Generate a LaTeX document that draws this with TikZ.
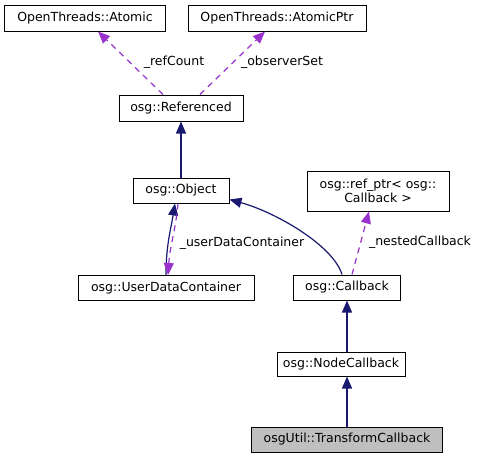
\documentclass[tikz,border=0pt]{standalone}
\usepackage{fontspec}
\setmainfont{DejaVu Sans}
\usetikzlibrary{arrows.meta,calc}
\definecolor{edgeblue}{HTML}{191970}
\definecolor{edgepurple}{HTML}{9A32CD}
\definecolor{boxgrey}{HTML}{BFBFBF}
\begin{document}
\begin{tikzpicture}[x=1pt,y=-1pt,
  every node/.style={font=\fontsize{12.5}{14.5}\selectfont, inner sep=0pt},
  cls/.style={draw=black, line width=1pt, fill=white, align=center},
  inh/.style={draw=edgeblue, line width=1.2pt, -{Triangle[length=12pt,width=10pt]}},
  use/.style={draw=edgepurple, line width=1.2pt, dash pattern=on 6pt off 5pt, -{Triangle[length=12pt,width=10pt]}},
  lbl/.style={text=black}]
\useasboundingbox (0,0) rectangle (480,459);
\node[cls, minimum width=161pt, minimum height=26pt] (atomic) at (85,18) {OpenThreads::Atomic};
\node[cls, minimum width=178pt, minimum height=26pt] (atomicptr) at (277,18) {OpenThreads::AtomicPtr};
\node[cls, minimum width=124pt, minimum height=26pt] (referenced) at (181,108) {osg::Referenced};
\node[cls, minimum width=96pt, minimum height=25pt] (object) at (181,190.5) {osg::Object};
\node[cls, minimum width=176pt, minimum height=25pt] (udc) at (166,288) {osg::UserDataContainer};
\node[cls, minimum width=142pt, minimum height=40pt] (refptr) at (378,191) {osg::ref\_ptr< osg::\\Callback >};
\node[cls, minimum width=107pt, minimum height=25pt] (callback) at (347,287.5) {osg::Callback};
\node[cls, minimum width=128pt, minimum height=24pt] (nodecb) at (341,364) {osg::NodeCallback};
\node[cls, fill=boxgrey, minimum width=191pt, minimum height=25pt] (transcb) at (347,439.5) {osgUtil::TransformCallback};

% uses (dashed)
\draw[use] ([xshift=-18pt]referenced.north) -- ([xshift=13pt]atomic.south);
\draw[use] ([xshift=19pt]referenced.north) -- ([xshift=-12pt]atomicptr.south);
\node[lbl] (lrc) at (174,62) {\_refCount};
\node[lbl] (los) at (282,62) {\_observerSet};

% inheritance
\draw[inh] (object.north) -- (referenced.south);
\draw[inh] (udc.north) .. controls +(0,-30) and +(-4,25) .. ([xshift=-6pt]object.south);
\draw[use] ([xshift=-3pt]object.south) .. controls +(-2,25) and +(2,-30) .. ([xshift=2pt]udc.north);
\node[lbl] (lud) at (242,243) {\_userDataContainer};

\draw[inh] ([xshift=-5pt]callback.north) .. controls (333,245) and (275,212) .. ($(object.south east)+(0,-4)$);
\draw[use] ([xshift=5pt]callback.north) -- ([xshift=-9pt]refptr.south);
\node[lbl] (lnc) at (420,242) {\_nestedCallback};

\draw[inh] (callback.south |- nodecb.north) -- (callback.south);
\draw[inh] (transcb.north) -- (transcb.north |- nodecb.south);
\end{tikzpicture}
\end{document}
